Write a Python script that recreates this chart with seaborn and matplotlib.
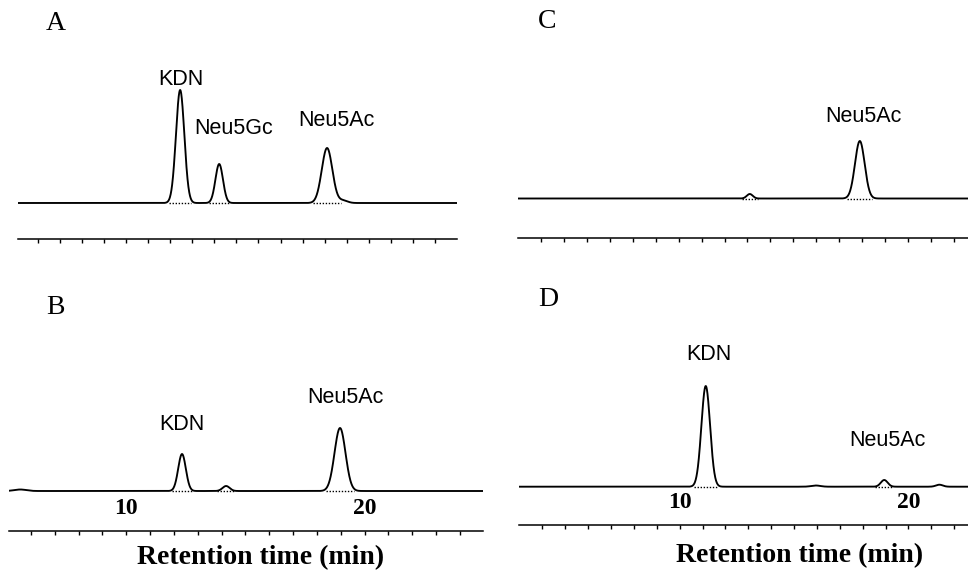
import numpy as np
import pandas as pd
import matplotlib
matplotlib.use("Agg")
import matplotlib.pyplot as plt
import seaborn as sns
from matplotlib.ticker import FixedLocator, FuncFormatter

# ==========================================
# Peak tables (retention time in min,
# height in arbitrary detector units, peak sigma in min)
# ==========================================
a_rt = [12.45, 14.22, 19.11, 19.84]
a_height = [113, 39, 55, 2.5]
a_sigma = [0.19, 0.17, 0.24, 0.2]
a_names = ["KDN", "Neu5Gc", "Neu5Ac", ""]

b_rt = [5.55, 12.34, 14.19, 18.97]
b_height = [1.5, 37, 5, 63]
b_sigma = [0.25, 0.16, 0.15, 0.23]
b_names = ["", "KDN", "", "Neu5Ac"]

c_rt = [14.1, 18.89]
c_height = [4.5, 57.5]
c_sigma = [0.13, 0.21]
c_names = ["", "Neu5Ac"]

d_rt = [11.14, 15.95, 18.94, 21.35]
d_height = [100.7, 1.2, 6.7, 2.0]
d_sigma = [0.19, 0.2, 0.15, 0.15]
d_names = ["KDN", "", "Neu5Ac", ""]

panel_letters = ["A", "B", "C", "D"]
tick_labels = {10: "10", 20: "20"}
x_label = "Retention time (min)"

# ==========================================
# Layout (pixels of the 968x574 figure)
# ==========================================
W, H = 968, 574
layout = {
    "A": dict(box=(18, 55, 457, 250), base=203, axis=239, xlim=(5.1, 25.0),
              ticks=range(6, 25), show_labels=False,
              text_pos=[(12.49, 123.7), (14.89, 74), (19.52, 82), None],
              letter=(56, 23)),
    "B": dict(box=(9, 340, 483, 545), base=491, axis=531, xlim=(5.08, 24.97),
              ticks=range(6, 25), show_labels=True,
              text_pos=[None, (12.34, 67), None, (19.18, 93.5)],
              letter=(55, 307), xlabel=(261, 558)),
    "C": dict(box=(518, 55, 968, 250), base=198.5, axis=238, xlim=(4.01, 23.6),
              ticks=range(5, 24), show_labels=False,
              text_pos=[None, (19.04, 82.5)],
              letter=(547, 22)),
    "D": dict(box=(519, 330, 968, 545), base=486.7, axis=525, xlim=(2.98, 22.6),
              ticks=range(4, 23), show_labels=True,
              text_pos=[(11.29, 132.7), None, (19.06, 45.7), None],
              letter=(548, 299), xlabel=(800, 556)),
}

peaks = {
    "A": (a_rt, a_height, a_sigma, a_names),
    "B": (b_rt, b_height, b_sigma, b_names),
    "C": (c_rt, c_height, c_sigma, c_names),
    "D": (d_rt, d_height, d_sigma, d_names),
}

sns.set_style("white")
plt.rcParams["font.family"] = ["Liberation Sans", "DejaVu Sans"]
plt.rcParams["text.color"] = "black"
plt.rcParams["xtick.color"] = "black"

fig = plt.figure(figsize=(W / 100, H / 100), dpi=100)

for letter in panel_letters:
    cfg = layout[letter]
    rt, height, sigma, names = peaks[letter]
    x0, y0, x1, y1 = cfg["box"]
    ax = fig.add_axes([x0 / W, 1 - y1 / H, (x1 - x0) / W, (y1 - y0) / H])
    ax.patch.set_alpha(0)

    # chromatogram trace as a sum of gaussian peaks
    t = np.linspace(cfg["xlim"][0], cfg["xlim"][1], 3000)
    signal = np.zeros_like(t)
    for r, h, s in zip(rt, height, sigma):
        signal += h * np.exp(-0.5 * ((t - r) / s) ** 2)
    df = pd.DataFrame({"time": t, "signal": signal})
    sns.lineplot(data=df, x="time", y="signal", ax=ax, color="black",
                 lw=1.35, estimator=None)

    # dotted integration baselines under the peaks
    for r, h, s in zip(rt, height, sigma):
        if h >= 4:
            ax.hlines(0, r - 2.6 * s, r + 2.6 * s, colors="black",
                      linestyles=(0, (1, 1.2)), lw=1.0)

    # peak names
    for name, pos in zip(names, cfg["text_pos"]):
        if name and pos is not None:
            ax.text(pos[0], pos[1], name, ha="center", va="center",
                    fontsize=15.5, color="black",
                    family=["Liberation Sans", "DejaVu Sans"])

    ax.set_xlim(*cfg["xlim"])
    ax.set_ylim(cfg["base"] - y1, cfg["base"] - y0)
    ax.set_xlabel("")
    ax.set_ylabel("")
    ax.set_yticks([])

    # time axis drawn as a ruler below the trace, ticks hanging down
    for side in ["left", "right", "bottom"]:
        ax.spines[side].set_visible(False)
    ax.spines["top"].set_position(("data", cfg["base"] - cfg["axis"]))
    ax.spines["top"].set_linewidth(1.1)
    ax.spines["top"].set_color("black")
    ax.xaxis.set_ticks_position("top")
    ax.xaxis.set_major_locator(FixedLocator(list(cfg["ticks"])))
    show = cfg["show_labels"]
    ax.xaxis.set_major_formatter(FuncFormatter(
        lambda v, p, show=show: tick_labels.get(int(round(v)), "") if show else ""))
    ax.tick_params(axis="x", which="major", direction="in", length=3.2,
                   width=1.0, color="black", labelcolor="black", top=True,
                   bottom=False, labeltop=True, labelbottom=False, pad=9)
    for lab in ax.get_xticklabels():
        lab.set_fontfamily(["Liberation Serif", "DejaVu Serif"])
        lab.set_fontweight("bold")
        lab.set_fontsize(17)

    lx, ly = cfg["letter"]
    fig.text(lx / W, 1 - ly / H, letter, ha="center", va="center",
             fontsize=20, color="black",
             family=["Liberation Serif", "DejaVu Serif"])

    if "xlabel" in cfg:
        tx, ty = cfg["xlabel"]
        fig.text(tx / W, 1 - ty / H, x_label, ha="center", va="center",
                 fontsize=20, fontweight="bold", color="black",
                 family=["Liberation Serif", "DejaVu Serif"])

fig.savefig("out.png", dpi=100)
plt.close(fig)
